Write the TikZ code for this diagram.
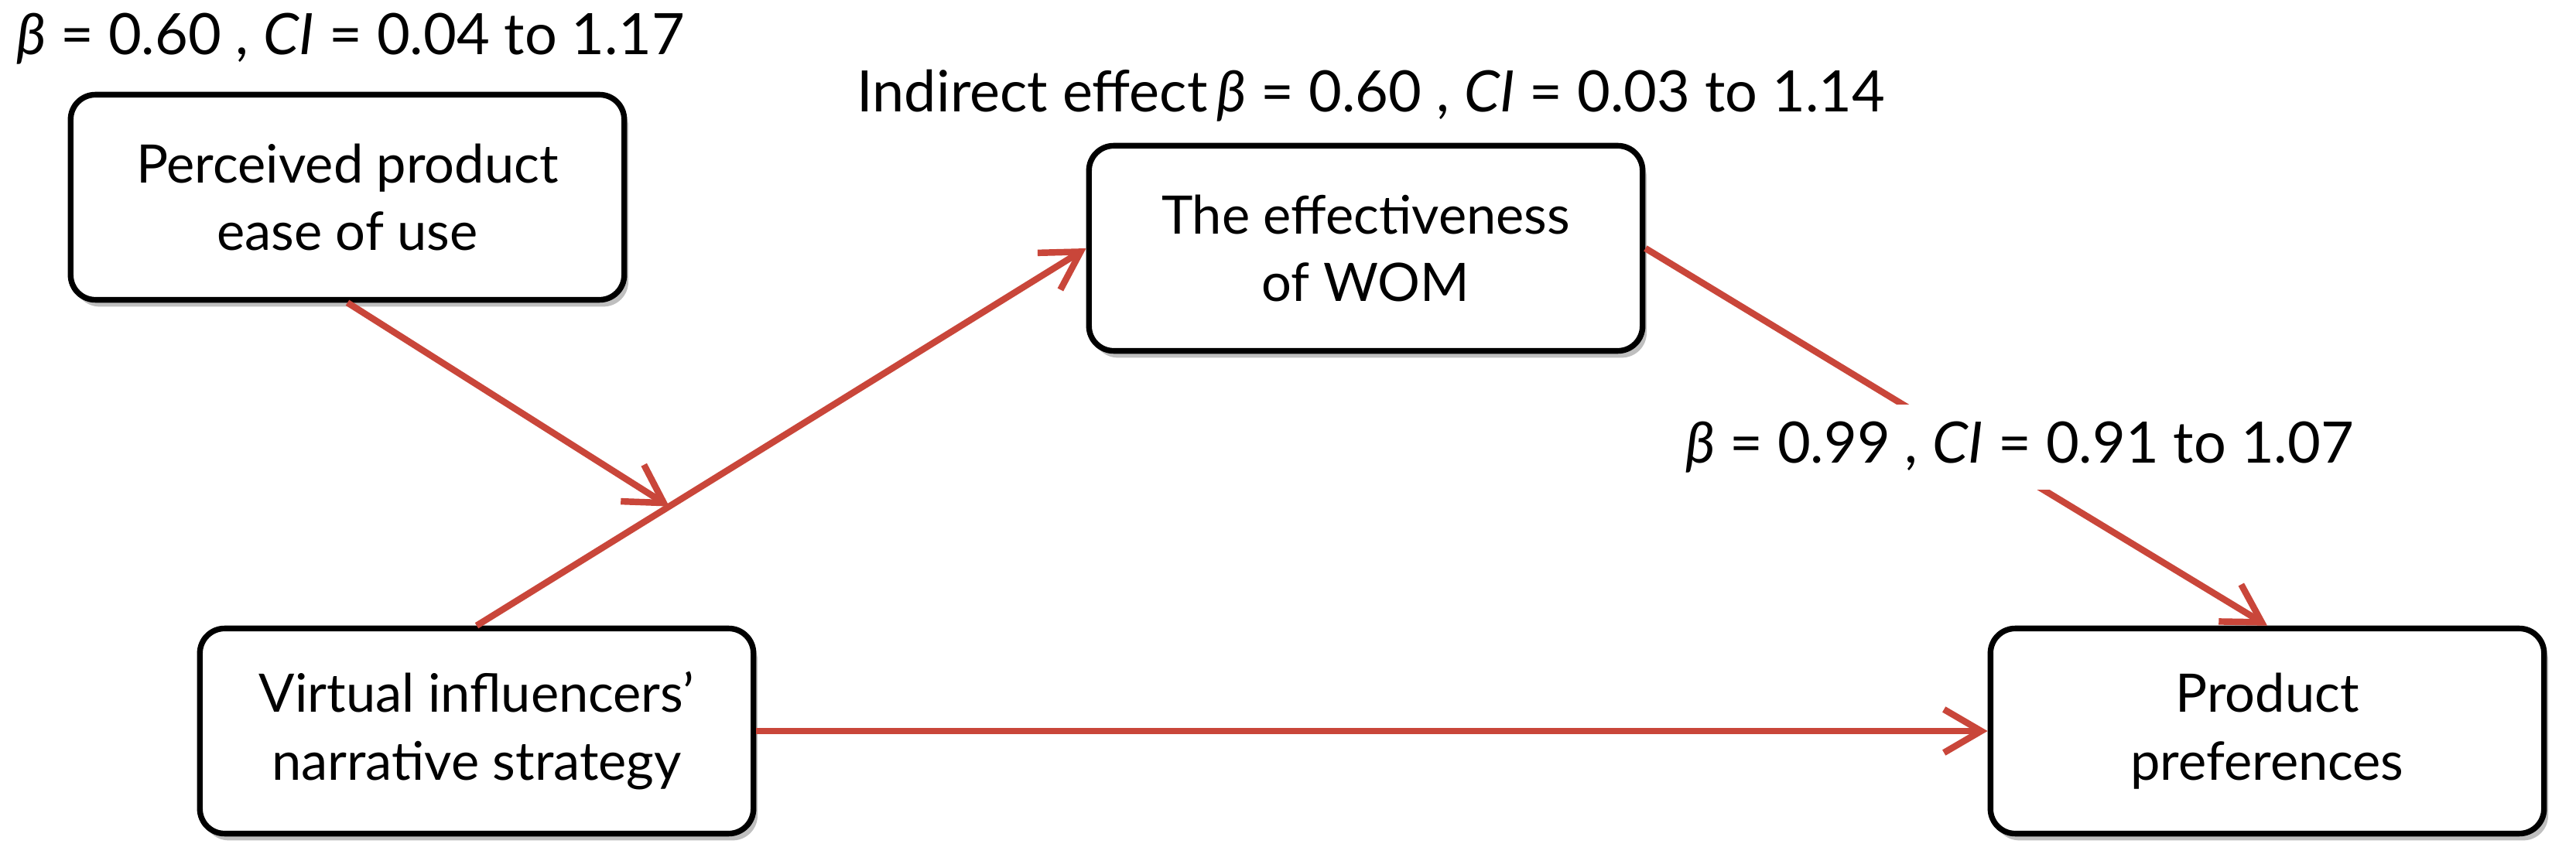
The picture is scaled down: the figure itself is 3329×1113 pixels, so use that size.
\documentclass[tikz,border=0pt]{standalone}
\usepackage{fontspec}
\setmainfont{Lato}
\usetikzlibrary{arrows.meta,calc,shadows}
\definecolor{arrowred}{RGB}{201,70,58}
\begin{document}
\begin{tikzpicture}[x=0.01cm,y=-0.01cm,
  box/.style={draw=black, line width=2.1pt, rounded corners=0.32cm, fill=white,
    minimum width=7.15cm, minimum height=2.65cm, align=center,
    font=\fontsize{19.5}{25}\selectfont,
    drop shadow={shadow xshift=1.5pt, shadow yshift=-2.5pt, opacity=0.25, fill=black}},
  lbl/.style={font=\fontsize{21}{25}\selectfont, inner sep=0pt},
  conn/.style={draw=arrowred, line width=2.4pt,
    -{Straight Barb[length=0.48cm, width=0.56cm, line width=2.4pt]}}
]
\useasboundingbox (0,0) rectangle (3329,1113);
\node[box] (ease) at (449,255) {Perceived product\\ease of use};
\node[box] (wom)  at (1765,321) {The effectiveness\\of WOM};
\node[box] (vinf) at (616,945) {Virtual influencers’\\narrative strategy};
\node[box] (pref) at (2930,945) {Product\\preferences};

\draw[conn] (vinf.north) -- (wom.west);
\coordinate (mid) at ($(vinf.north)!0.316!(wom.west)$);
\draw[conn] (ease.south) -- (mid);
\draw[conn] (wom.east) -- (pref.north);
\draw[conn] (vinf.east) -- (pref.west);

\node[lbl] (l1) at (453,50) {\textit{β} = 0.60 , \textit{CI} = 0.04 to 1.17};
\node[lbl] (l2) at (1772,124) {Indirect effect\,\textit{β} = 0.60 , \textit{CI} = 0.03 to 1.14};
\node[lbl, fill=white, inner ysep=0.22cm, inner xsep=2pt] (l3) at (2610,578) {\textit{β} = 0.99 , \textit{CI} = 0.91 to 1.07};
\end{tikzpicture}
\end{document}
